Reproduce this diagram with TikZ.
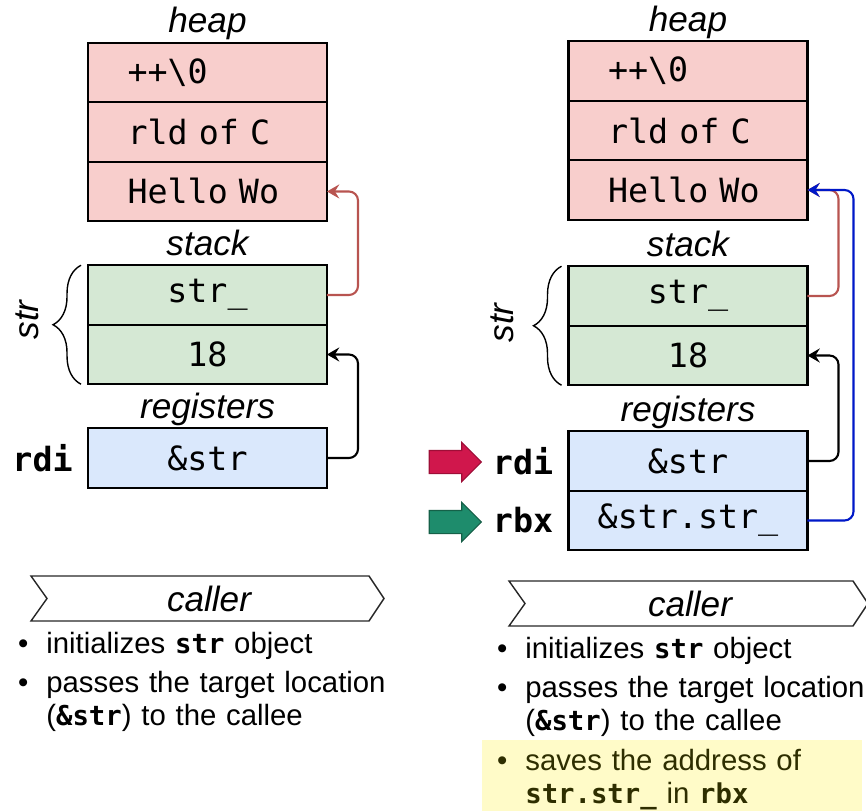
\documentclass[tikz,border=0pt]{standalone}
\usepackage{fontspec}
\setsansfont{Liberation Sans}
\setmonofont{DejaVu Sans Mono}[Scale=0.93]
\renewcommand{\familydefault}{\sfdefault}
\usepackage{tikz}
\usetikzlibrary{positioning,arrows.meta,shapes.arrows,decorations.pathreplacing}

\definecolor{heapfill}{HTML}{F8CECC}
\definecolor{stackfill}{HTML}{D5E8D4}
\definecolor{regfill}{HTML}{DAE8FC}
\definecolor{ptrred}{HTML}{B85450}
\definecolor{ptrblue}{HTML}{0018C8}
\definecolor{markred}{HTML}{D0174C}
\definecolor{markredline}{HTML}{9E0E37}
\definecolor{markgreen}{HTML}{1E8C6C}
\definecolor{markgreenline}{HTML}{156048}
\definecolor{hlfill}{HTML}{FFFBC8}
\definecolor{hltext}{HTML}{2E2E00}

\newcommand{\cd}[1]{\texttt{\bfseries #1}}
\newcommand{\bul}{\llap{\textbullet\hspace{0.36cm}}}

\begin{document}
\begin{tikzpicture}[x=0.02cm, y=-0.02cm,
    cell/.style={draw, line width=1.3pt, outer sep=0pt, inner sep=0pt,
        minimum width=4.78cm, minimum height=1.19cm,
        font=\fontsize{20.4}{24}\selectfont\ttfamily},
    heapcell/.style={cell, fill=heapfill, text width=3.2cm, align=left},
    stackcell/.style={cell, fill=stackfill},
    regcell/.style={cell, fill=regfill},
    lbl/.style={inner sep=0pt, font=\fontsize{20}{24}\selectfont\itshape},
    reglbl/.style={inner sep=0pt, font=\fontsize{20.4}{24}\selectfont\ttfamily\bfseries},
    ptr/.style={line width=1.2pt, rounded corners=0.18cm,
        -{Stealth[length=7pt, width=8pt, inset=2.5pt]}},
    strbrace/.style={line width=0.8pt, decorate,
        decoration={brace, amplitude=0.56cm}},
    chev/.style={draw=black!85, line width=0.8pt},
    fatarrow/.style={single arrow, line width=0.6pt, inner xsep=0pt,
        inner ysep=0.22cm, single arrow head extend=0.16cm,
        minimum height=1.04cm},
    item/.style={inner sep=0pt, anchor=base west, text width=7.4cm, align=left,
        font=\fontsize{16.7}{18.8}\selectfont}]

    \useasboundingbox (0,0) rectangle (866,811);

    % ---------- left: before ----------
    % heap
    \node[heapcell] (nulL) at (207.5,72.5) {++\textbackslash0};
    \node[heapcell, below=0pt of nulL] (rldL) {rld of C};
    \node[heapcell, below=0pt of rldL] (helloL) {Hello Wo};
    \node[lbl, anchor=base] (heapL) at ([yshift=0.2cm]nulL.north) {heap};

    % stack
    \node[stackcell] (strL) at (207.5,295) {str\_};
    \node[stackcell, below=0pt of strL] (lenL) {18};
    \node[lbl, anchor=base] (stackL) at ([yshift=0.2cm]strL.north) {stack};
    \draw[strbrace] ([xshift=-0.14cm]lenL.south west) -- ([xshift=-0.14cm]strL.north west);
    \node[lbl, rotate=90] (strTagL) at (27,320) {str};

    % registers
    \node[regcell] (rdiL) at (207.5,458) {\&str};
    \node[lbl, anchor=base] (regsL) at ([yshift=0.2cm]rdiL.north) {registers};
    \node[reglbl, left=0.3cm of rdiL] (rdiLblL) {rdi};

    % pointers
    \draw[ptr, ptrred] (strL.east) -- ++(31,0) |- (helloL.east);
    \draw[ptr] (rdiL.east) -- ++(31,0) |- (lenL.east);

    % caller
    \draw[chev] (31,576) -- (369,576) -- (384,598.5) -- (369,621) -- (31,621) -- (47,598.5) -- cycle;
    \node[lbl] (callerL) at (209,598.5) {caller};
    \node[item] (itemL1) at (46,653) {\bul initializes \cd{str} object};
    \node[item] (itemL2) at (46,692) {\bul passes the target location\\(\cd{\&str}) to the callee};

    % ---------- right: after ----------
    % heap
    \node[heapcell] (nulR) at (688,71) {++\textbackslash0};
    \node[heapcell, below=0pt of nulR] (rldR) {rld of C};
    \node[heapcell, below=0pt of rldR] (helloR) {Hello Wo};
    \node[lbl, anchor=base] (heapR) at ([yshift=0.2cm]nulR.north) {heap};

    % stack
    \node[stackcell] (strR) at (688,296) {str\_};
    \node[stackcell, below=0pt of strR] (lenR) {18};
    \node[lbl, anchor=base] (stackR) at ([yshift=0.2cm]strR.north) {stack};
    \draw[strbrace] ([xshift=-0.14cm]lenR.south west) -- ([xshift=-0.14cm]strR.north west);
    \node[lbl, rotate=90] (strTagR) at (502,323) {str};

    % registers
    \node[regcell] (rdiR) at (688,461) {\&str};
    \node[regcell, below=0pt of rdiR] (rbxR) {\&str.str\_};
    \node[lbl, anchor=base] (regsR) at ([yshift=0.2cm]rdiR.north) {registers};
    \node[reglbl, left=0.3cm of rdiR] (rdiLblR) {rdi};
    \node[reglbl, left=0.3cm of rbxR] (rbxLblR) {rbx};

    % markers
    \node[fatarrow, fill=markred, draw=markredline] (markRdi) at (449.5,462) {};
    \node[fatarrow, fill=markgreen, draw=markgreenline] (markRbx) at (449.5,522) {};

    % pointers
    \draw[ptr, ptrred] (strR.east) -- ++(31,0) |- (helloR.east);
    \draw[ptr] (rdiR.east) -- ++(31,0) |- (lenR.east);
    \draw[ptr, ptrblue] (rbxR.east) -- ++(46,0) |- (helloR.east);

    % caller
    \draw[chev] (509,581) -- (853,581) -- (868,603.5) -- (853,626) -- (509,626) -- (525,603.5) -- cycle;
    \node[lbl] (callerR) at (690,603.5) {caller};
    \node[item] (itemR1) at (525,658) {\bul initializes \cd{str} object};
    \node[item] (itemR2) at (525,697) {\bul passes the target location\\(\cd{\&str}) to the callee};
    \fill[hlfill] (482,740) rectangle (862,815);
    \node[item, text=hltext] (itemR3) at (525,770) {\bul saves the address of\\\cd{str.str\_} in \cd{rbx}};

\end{tikzpicture}
\end{document}
